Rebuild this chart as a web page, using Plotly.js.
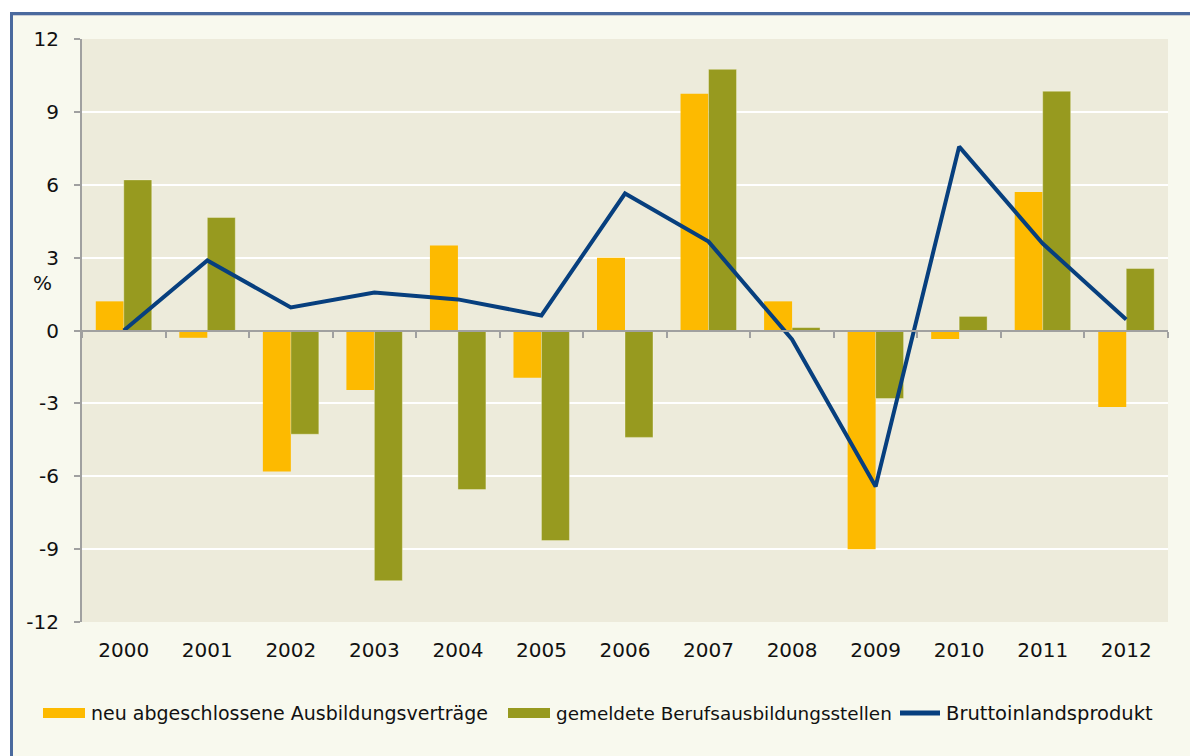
<!DOCTYPE html>
<html><head><meta charset="utf-8">
<script src="https://cdn.plot.ly/plotly-3.0.1.min.js"></script>
<style>
html,body{margin:0;padding:0;background:#ffffff;overflow:hidden;}
#frame{position:absolute;left:10px;top:12px;width:1200px;height:760px;background:#F8F9EE;border-left:3px solid #4A6A9E;border-top:3px solid #4A6A9E;box-shadow:inset 0 1px 0 #C8CCD4;}
#chart{position:absolute;left:0;top:0;width:1190px;height:756px;}
</style></head>
<body>
<div id="frame"></div>
<div id="chart"></div>
<script>
const years = ['2000','2001','2002','2003','2004','2005','2006','2007','2008','2009','2010','2011','2012'];
const neueVertraege = [1.2, -0.3, -5.8, -2.45, 3.5, -1.95, 3.0, 9.75, 1.2, -9.0, -0.35, 5.7, -3.15];
const gemeldeteStellen = [6.2, 4.65, -4.27, -10.3, -6.55, -8.65, -4.4, 10.75, 0.12, -2.8, 0.58, 9.85, 2.55];
const bip = [0.0, 2.88, 0.95, 1.56, 1.28, 0.62, 5.64, 3.66, -0.37, -6.42, 7.57, 3.58, 0.45];
const yTicks = [-12, -9, -6, -3, 0, 3, 6, 9, 12];
const seriesNames = ['neu abgeschlossene Ausbildungsverträge', 'gemeldete Berufsausbildungsstellen', 'Bruttoinlandsprodukt'];
const colors = ['#FDBA00', '#979A1F', '#073F7E'];

const FONT = 'DejaVu Sans, Liberation Sans, Arial, sans-serif';
const L = 82, R = 1168, T = 39, B = 622;
const px = x => (x - L) / (R - L);
const py = y => (B - y) / (B - T);

const traces = [
  {type:'bar', x: years, y: neueVertraege, name: seriesNames[0], marker:{color: colors[0]}, showlegend:false, hoverinfo:'y'},
  {type:'bar', x: years, y: gemeldeteStellen, name: seriesNames[1], marker:{color: colors[1], line:{color:'rgba(255,255,240,0.35)', width:1}}, showlegend:false, hoverinfo:'y'},
  {type:'scatter', mode:'lines', x: years, y: bip, name: seriesNames[2], line:{color: colors[2], width:4}, showlegend:false},
  {type:'scatter', mode:'lines', x: years, y: years.map(() => null), xaxis:'x2', yaxis:'y', showlegend:false, hoverinfo:'skip'}
];

// custom legend (Excel style wide swatches)
const legendY = 713;
const shapes = [
  {type:'rect', xref:'paper', yref:'paper', x0: px(43), x1: px(85), y0: py(718), y1: py(708), fillcolor: colors[0], line:{width:0}},
  {type:'rect', xref:'paper', yref:'paper', x0: px(508), x1: px(550), y0: py(718), y1: py(708), fillcolor: colors[1], line:{width:0}},
  {type:'line', xref:'paper', yref:'paper', x0: px(900), x1: px(940), y0: py(legendY), y1: py(legendY), line:{color: colors[2], width:5}}
];
const annotations = [
  {xref:'paper', yref:'paper', x: px(89), y: py(legendY), xanchor:'left', yanchor:'middle', text: seriesNames[0], showarrow:false, font:{family:FONT, size:19, color:'#111'}},
  {xref:'paper', yref:'paper', x: px(554), y: py(legendY), xanchor:'left', yanchor:'middle', text: seriesNames[1], showarrow:false, font:{family:FONT, size:18.4, color:'#111'}},
  {xref:'paper', yref:'paper', x: px(944), y: py(legendY), xanchor:'left', yanchor:'middle', text: seriesNames[2], showarrow:false, font:{family:FONT, size:19.5, color:'#111'}},
  {xref:'paper', yref:'paper', x: px(42), y: py(283), xanchor:'center', yanchor:'middle', text:'%', showarrow:false, font:{family:FONT, size:20, color:'#111'}}
];

const layout = {
  width:1190, height:756,
  margin:{l:L, r:1190-R, t:T, b:756-B, pad:0},
  paper_bgcolor:'rgba(0,0,0,0)',
  plot_bgcolor:'#EDEBDB',
  barmode:'group', bargap:0.33, bargroupgap:0,
  showlegend:false,
  font:{family:FONT, size:20, color:'#111'},
  xaxis:{type:'category', categoryarray: years, range:[-0.5, 12.5], showgrid:false, zeroline:false, showline:false, ticks:'', ticklabelstandoff:14, tickfont:{family:FONT, size:20, color:'#111'}, fixedrange:true},
  xaxis2:{type:'category', categoryarray: years, range:[-0.5, 12.5], overlaying:'x', anchor:'free', position:0.5, side:'bottom', showgrid:false, zeroline:false, showline:true, linecolor:'#A0A0A0', linewidth:2, ticks:'outside', ticklen:6, tickwidth:2, tickcolor:'#A0A0A0', tickson:'boundaries', showticklabels:false},
  yaxis:{range:[-12, 12], tickvals: yTicks, ticktext: yTicks.map(String), showgrid:true, gridcolor:'#FFFFFF', gridwidth:2, zeroline:false, showline:true, linecolor:'#A0A0A0', linewidth:2, ticks:'outside', ticklen:6, tickwidth:2, tickcolor:'#A0A0A0', ticklabelstandoff:11, tickfont:{family:FONT, size:20, color:'#111'}},
  shapes: shapes,
  annotations: annotations
};

Plotly.newPlot('chart', traces, layout, {displayModeBar:false, staticPlot:true});
</script>
</body></html>
